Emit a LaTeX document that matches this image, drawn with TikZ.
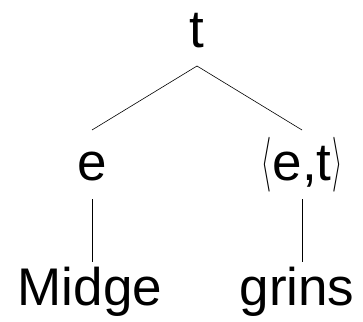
\documentclass[tikz,border=0pt]{standalone}
\usepackage{graphicx}
\usepackage{fontspec}
\setmainfont{Liberation Sans}
\newcommand{\bigang}[1]{\raisebox{-12pt}{\resizebox*{10pt}{55pt}{\raisebox{\depth}{$#1$}}}}
\begin{document}
\begin{tikzpicture}[x=1pt,y=-1pt,
  lab/.style={anchor=base,inner sep=0pt,font=\fontsize{53}{60}\selectfont},
  edge/.style={draw=black,line width=0.6pt}]
\useasboundingbox (0,0) rectangle (363,321);
\node[lab] (t) at (197,47) {t};
\node[lab] (e) at (92,180) {e};
\node[lab] (et) at (302,180) {\bigang{\langle}\kern1pt e,t\kern1pt\bigang{\rangle}};
\node[lab] (m) at (90,305) {Midge};
\node[lab] (g) at (297,305) {grins};
\coordinate (ta) at (197,66);
\coordinate (ea) at (92,130);
\coordinate (eta) at (302,130);
\coordinate (eb) at (92,199);
\coordinate (etb) at (302,199);
\coordinate (ma) at (92,262);
\coordinate (ga) at (302,262);
\draw[edge] (ta) -- (ea);
\draw[edge] (ta) -- (eta);
\draw[edge] (eb) -- (ma);
\draw[edge] (etb) -- (ga);
\end{tikzpicture}
\end{document}
